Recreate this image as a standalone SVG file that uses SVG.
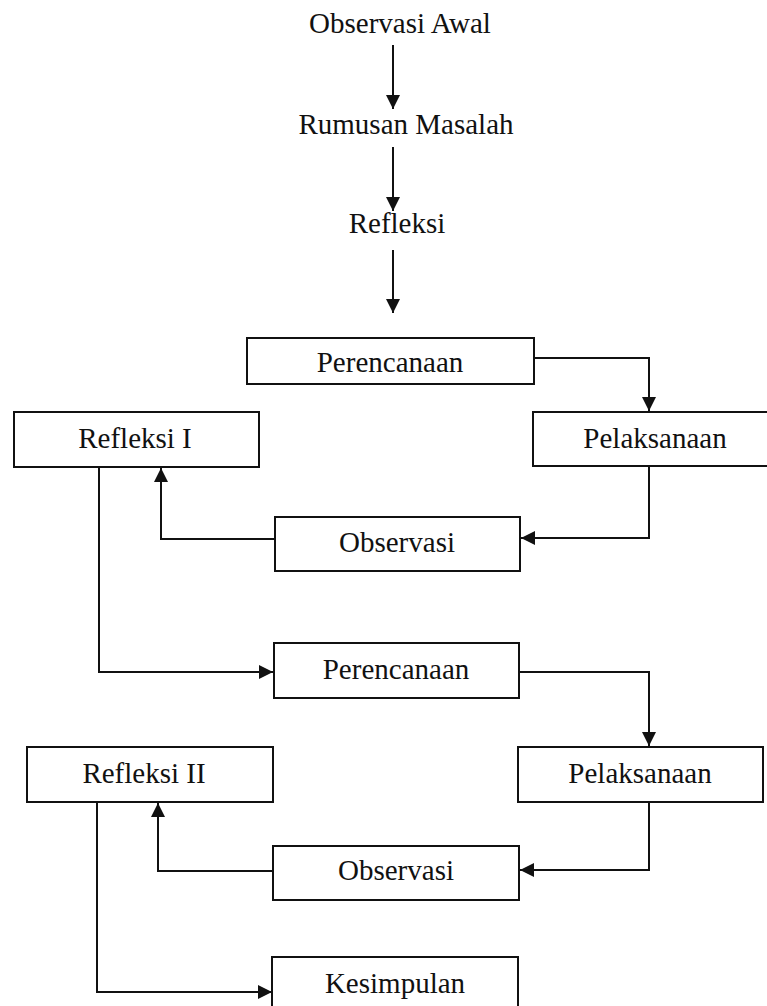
<svg xmlns="http://www.w3.org/2000/svg" width="767" height="1006" viewBox="0 0 767 1006">
<style>
.box{fill:#fff;stroke:#111;stroke-width:2}
.t{font-family:'Liberation Serif','DejaVu Serif','Times New Roman',serif;font-size:29px;fill:#111;text-anchor:middle}
.c{fill:none;stroke:#111;stroke-width:2}
</style>
<defs>
<marker id="ah" markerUnits="userSpaceOnUse" markerWidth="16" markerHeight="16" viewBox="0 0 16 16" refX="14" refY="8" orient="auto">
<path d="M0,1 L14,8 L0,15 Z" fill="#111"/>
</marker>
</defs>
<rect width="767" height="1006" fill="#fff"/>
<g id="connectors">
<path class="c" d="M393,45 V109" marker-end="url(#ah)"/>
<path class="c" d="M393,147 V211" marker-end="url(#ah)"/>
<path class="c" d="M393,250 V313" marker-end="url(#ah)"/>
<path class="c" d="M534,358 H649 V411" marker-end="url(#ah)"/>
<path class="c" d="M649,466 V538 H521" marker-end="url(#ah)"/>
<path class="c" d="M275,539 H161 V468" marker-end="url(#ah)"/>
<path class="c" d="M99,467 V672 H273" marker-end="url(#ah)"/>
<path class="c" d="M519,672 H649 V746" marker-end="url(#ah)"/>
<path class="c" d="M649,802 V870 H520" marker-end="url(#ah)"/>
<path class="c" d="M273,871 H158 V803" marker-end="url(#ah)"/>
<path class="c" d="M97,802 V992 H272" marker-end="url(#ah)"/>
</g>
<g id="observasi-awal"><text class="t" x="400" y="33">Observasi Awal</text></g>
<g id="rumusan-masalah"><text class="t" x="406" y="134">Rumusan Masalah</text></g>
<g id="refleksi"><text class="t" x="397" y="233">Refleksi</text></g>
<g id="perencanaan-1"><rect class="box" x="247" y="338" width="287" height="46"/><text class="t" x="390" y="372">Perencanaan</text></g>
<g id="refleksi-1"><rect class="box" x="14" y="412" width="245" height="55"/><text class="t" x="135" y="448">Refleksi I</text></g>
<g id="pelaksanaan-1"><rect class="box" x="533" y="412" width="244" height="54"/><text class="t" x="655" y="448">Pelaksanaan</text></g>
<g id="observasi-1"><rect class="box" x="275" y="517" width="245" height="54"/><text class="t" x="397" y="552">Observasi</text></g>
<g id="perencanaan-2"><rect class="box" x="274" y="643" width="245" height="55"/><text class="t" x="396" y="679">Perencanaan</text></g>
<g id="refleksi-2"><rect class="box" x="27" y="747" width="246" height="55"/><text class="t" x="144" y="783">Refleksi II</text></g>
<g id="pelaksanaan-2"><rect class="box" x="518" y="747" width="245" height="55"/><text class="t" x="640" y="783">Pelaksanaan</text></g>
<g id="observasi-2"><rect class="box" x="273" y="846" width="246" height="54"/><text class="t" x="396" y="880">Observasi</text></g>
<g id="kesimpulan"><rect class="box" x="272" y="957" width="246" height="55"/><text class="t" x="395" y="993">Kesimpulan</text></g>
</svg>
